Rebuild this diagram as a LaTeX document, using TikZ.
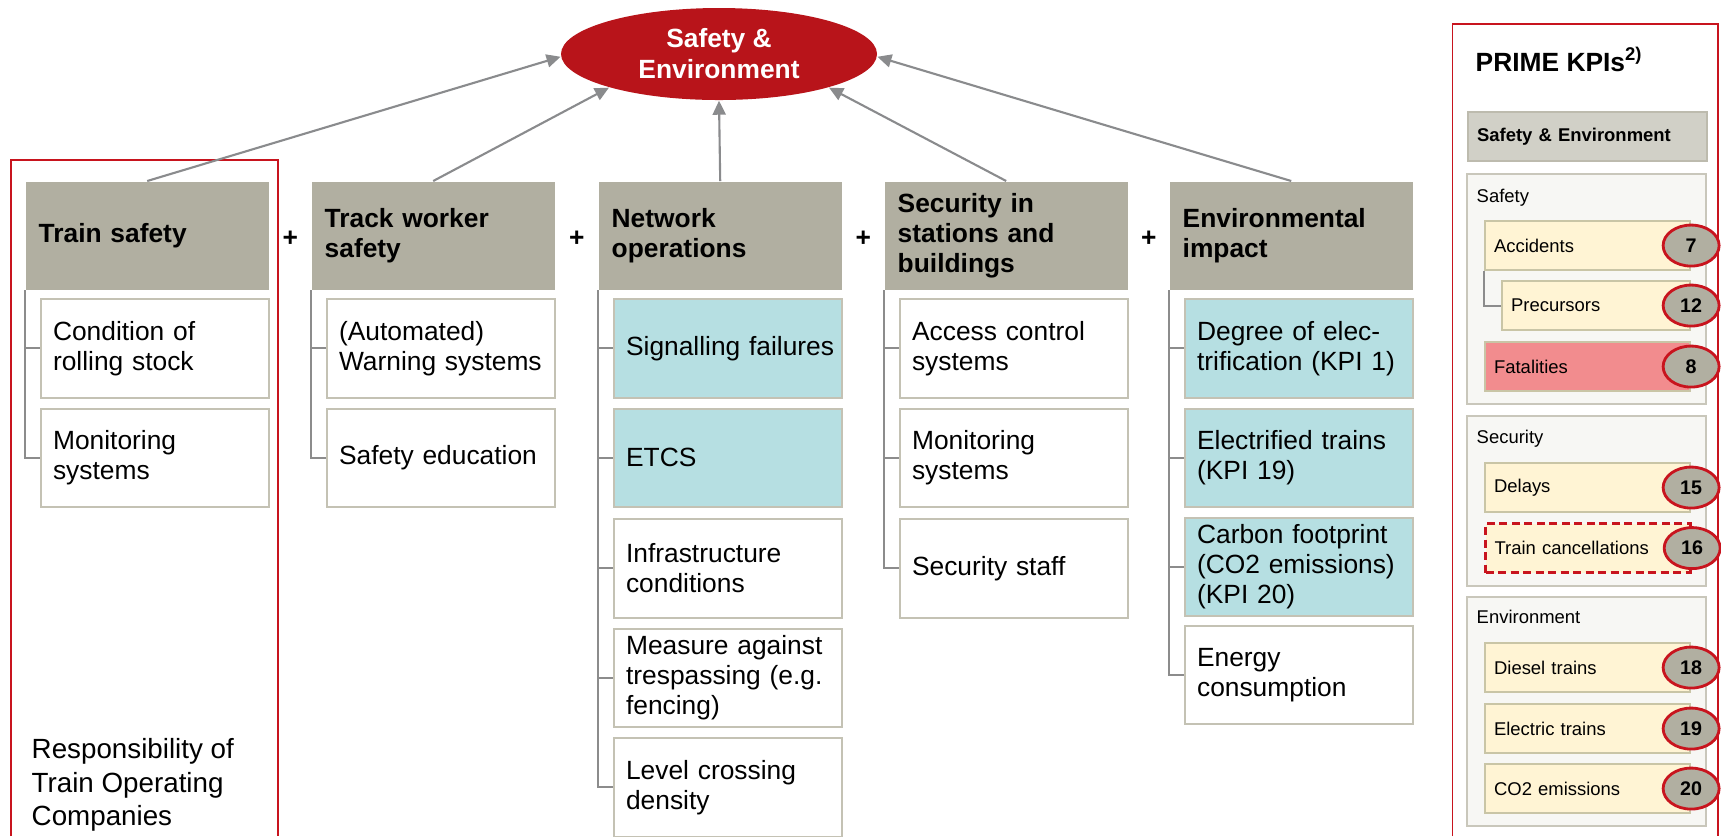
\documentclass[tikz,border=0pt]{standalone}
\usepackage{fontspec}
\setmainfont{Liberation Sans}
\usetikzlibrary{shapes.geometric,arrows.meta}

\definecolor{headgray}{HTML}{B1AFA1}
\definecolor{itemline}{HTML}{C4C2B4}
\definecolor{ctrlblue}{HTML}{B6DFE2}
\definecolor{conngray}{HTML}{8A8B8D}
\definecolor{treegray}{HTML}{8C8C8C}
\definecolor{sered}{HTML}{B8141A}
\definecolor{framered}{HTML}{C8141E}
\definecolor{sefill}{HTML}{D1D0C7}
\definecolor{seline}{HTML}{BDBBAE}
\definecolor{grpfill}{HTML}{F7F7F4}
\definecolor{grpline}{HTML}{C9C7BB}
\definecolor{cream}{HTML}{FFF4D4}
\definecolor{creamline}{HTML}{C9C5A6}
\definecolor{salmon}{HTML}{F28C8E}

\tikzset{
  head/.style={anchor=north west, fill=headgray, minimum width=2.43cm, minimum height=1.08cm,
    text width=2.17cm, inner xsep=1.3mm, inner ysep=0pt, align=left,
    font=\bfseries\fontsize{7.5}{8.6}\selectfont},
  item/.style={anchor=north west, draw=itemline, line width=0.6pt, fill=white, minimum height=0.985cm,
    text width=2.04cm, inner xsep=1.2mm, inner ysep=0pt, align=left,
    font=\fontsize{7.5}{8.6}\selectfont},
  ctrl/.style={item, fill=ctrlblue},
  tree/.style={draw=treegray, line width=0.6pt},
  conn/.style={->, draw=conngray, line width=0.6pt},
  plus/.style={font=\bfseries\fontsize{7.5}{8.6}\selectfont, inner sep=0pt, yshift=-0.3mm},
  seell/.style={ellipse, fill=sered, text=white, align=center, minimum width=3.16cm, minimum height=0.92cm,
    inner sep=0pt, font=\bfseries\fontsize{7.5}{8.8}\selectfont},
  redframe/.style={draw=framered, line width=0.5pt},
  kpihead/.style={anchor=north west, fill=sefill, draw=seline, line width=0.6pt, minimum height=0.49cm,
    text width=2.21cm, inner xsep=0.9mm, inner ysep=0pt, align=left,
    font=\bfseries\fontsize{5.25}{6.3}\selectfont},
  kpigroup/.style={fill=grpfill, draw=grpline, line width=0.6pt},
  kpilabel/.style={anchor=base west, inner sep=0pt, font=\fontsize{5.25}{6.3}\selectfont},
  kpi/.style={anchor=north west, fill=cream, draw=creamline, line width=0.6pt, minimum height=0.49cm,
    text width=1.87cm, inner xsep=0.9mm, inner ysep=0pt, align=left,
    font=\fontsize{5.25}{6.3}\selectfont},
  badge/.style={ellipse, fill=headgray, draw=framered, line width=0.8pt, minimum width=0.56cm,
    minimum height=0.41cm, inner sep=0pt, font=\bfseries\fontsize{5.6}{6.5}\selectfont},
}

\begin{document}
\begin{tikzpicture}[>={Triangle[length=1.4mm,width=1.3mm]}]
   \useasboundingbox (0,0) rectangle (17.21,-8.36);

   % 枠
   \draw[redframe, line width=0.4pt] (0.11,-8.36) |- (2.78,-1.60) -- (2.78,-8.36);
   \draw[redframe] (14.525,-8.36) |- (17.18,-0.24) -- (17.18,-8.36);

   % 中央の楕円
   \node[seell] (se) at (7.19,-0.54) {Safety \&\\Environment};

   % 見出し
   \node[head] (h1) at (0.25,-1.81) {Train safety};
   \node[head] (h2) at (3.11,-1.81) {Track worker\\safety};
   \node[head] (h3) at (5.98,-1.81) {Network\\operations};
   \node[head] (h4) at (8.84,-1.81) {Security in\\stations and\\buildings};
   \node[head] (h5) at (11.69,-1.81) {Environmental\\impact};

   \path (h1) -- (h2) node[plus, midway] (p1) {+};
   \path (h2) -- (h3) node[plus, midway] (p2) {+};
   \path (h3) -- (h4) node[plus, midway] (p3) {+};
   \path (h4) -- (h5) node[plus, midway] (p4) {+};

   % 矢印
   \draw[conn] (h1.north) -- (se.181);
   \draw[conn] (h2.north) -- (se.197);
   \draw[conn] (h3.north) -- (se.south);
   \draw[conn] (h4.north) -- (se.343);
   \draw[conn] (h5.north) -- (se.359);

   % 項目
   \node[item] (ts1) at (0.40,-2.98) {Condition of\\rolling stock};
   \node[item] (ts2) at (0.40,-4.075) {Monitoring\\systems};

   \node[item] (tw1) at (3.26,-2.98) {(Automated)\\Warning systems};
   \node[item] (tw2) at (3.26,-4.075) {Safety education};

   \node[ctrl] (no1) at (6.13,-2.98) {\mbox{Signalling failures}};
   \node[ctrl] (no2) at (6.13,-4.075) {ETCS};
   \node[item] (no3) at (6.13,-5.18) {Infrastructure\\conditions};
   \node[item] (no4) at (6.13,-6.275) {Measure against\\trespassing (e.g.\\fencing)};
   \node[item] (no5) at (6.13,-7.37) {Level crossing\\density};

   \node[item] (sc1) at (8.99,-2.98) {Access control\\systems};
   \node[item] (sc2) at (8.99,-4.075) {Monitoring\\systems};
   \node[item] (sc3) at (8.99,-5.18) {Security staff};

   \node[ctrl] (ei1) at (11.84,-2.98) {Degree of elec-\\trification (KPI 1)};
   \node[ctrl] (ei2) at (11.84,-4.075) {Electrified trains\\(KPI 19)};
   \node[ctrl] (ei3) at (11.84,-5.165) {Carbon footprint\\(CO2 emissions)\\(KPI 20)};
   \node[item] (ei4) at (11.84,-6.245) {Energy\\consumption};

   % 補助線
   \draw[tree] (h1.south west) |- (ts2.west);
   \draw[tree] (h1.south west |- ts1.west) -- (ts1.west);
   \draw[tree] (h2.south west) |- (tw2.west);
   \draw[tree] (h2.south west |- tw1.west) -- (tw1.west);
   \draw[tree] (h3.south west) |- (no5.west);
   \foreach \i in {1,...,4}
      \draw[tree] (h3.south west |- no\i.west) -- (no\i.west);
   \draw[tree] (h4.south west) |- (sc3.west);
   \foreach \i in {1,2}
      \draw[tree] (h4.south west |- sc\i.west) -- (sc\i.west);
   \draw[tree] (h5.south west) |- (ei4.west);
   \foreach \i in {1,2,3}
      \draw[tree] (h5.south west |- ei\i.west) -- (ei\i.west);

   \node[anchor=north west, inner sep=0pt, align=left, font=\fontsize{7.9}{9.5}\selectfont] (toc)
      at (0.31,-7.38) {Responsibility of\\Train Operating\\Companies};

   % 右側のKPI一覧
   \node[anchor=base west, inner sep=0pt, font=\bfseries\fontsize{7.5}{9}\selectfont] (kpititle)
      at (14.75,-0.71) {PRIME KPIs\textsuperscript{2)}};
   \node[kpihead] (kse) at (14.67,-1.11) {Safety \& Environment};

   \draw[kpigroup] (14.67,-1.74) rectangle (17.06,-4.04);
   \draw[kpigroup] (14.67,-4.16) rectangle (17.06,-5.86);
   \draw[kpigroup] (14.67,-5.97) rectangle (17.06,-8.26);

   \node[kpilabel] (lsafety) at (14.76,-2.02) {Safety};
   \node[kpilabel] (lsecurity) at (14.76,-4.43) {Security};
   \node[kpilabel] (lenv) at (14.76,-6.23) {Environment};

   \node[kpi] (acc) at (14.84,-2.20) {Accidents};
   \node[kpi, minimum width=1.88cm, text width=1.70cm] (pre) at (15.01,-2.80) {Precursors};
   \draw[draw=treegray, line width=0.6pt] (acc.south west) |- (pre.west);
   \node[kpi, fill=salmon] (fat) at (14.84,-3.41) {Fatalities};
   \node[kpi] (del) at (14.84,-4.62) {Delays};
   \node[kpi, draw=framered, line width=0.9pt, dash pattern=on 0.8mm off 0.45mm] (tcan)
      at (14.84,-5.22) {Train cancellations};
   \node[kpi] (die) at (14.84,-6.42) {Diesel trains};
   \node[kpi] (ele) at (14.84,-7.03) {Electric trains};
   \node[kpi] (co2) at (14.84,-7.63) {CO2 emissions};

   \node[badge] (k7) at (acc.east) {7};
   \node[badge] (k12) at (pre.east) {12};
   \node[badge] (k8) at (fat.east) {8};
   \node[badge] (k15) at (del.east) {15};
   \node[badge] (k16) at (tcan.east) {16};
   \node[badge] (k18) at (die.east) {18};
   \node[badge] (k19) at (ele.east) {19};
   \node[badge] (k20) at (co2.east) {20};

\end{tikzpicture}
\end{document}
